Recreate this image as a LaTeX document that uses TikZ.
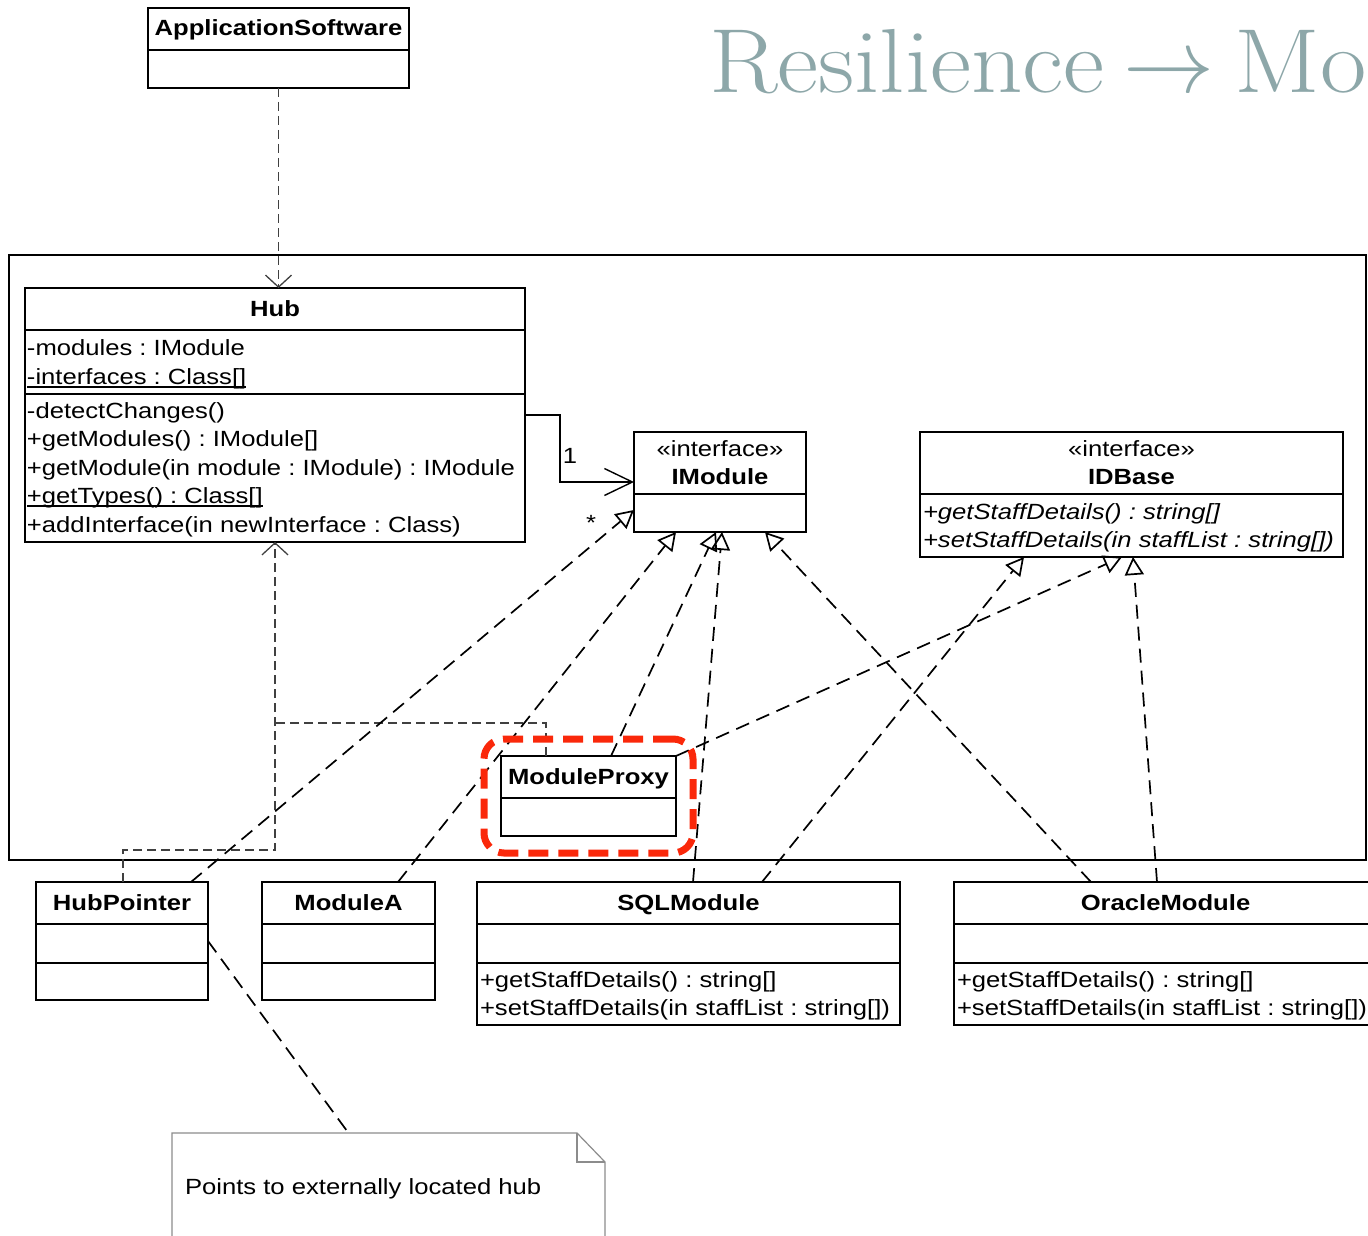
\RequirePackage{fix-cm}
\documentclass[tikz,border=0pt]{standalone}
\usepackage{fontspec}
\usepackage{graphicx}
\setsansfont{Liberation Sans}[FakeStretch=1.165]
\usetikzlibrary{arrows.meta,fit,calc}
\definecolor{titlegrey}{RGB}{141,167,169}
\definecolor{markred}{RGB}{250,40,10}
\definecolor{notegrey}{RGB}{140,140,140}
\newcommand\umlsize{\fontsize{22}{28}\selectfont\frenchspacing}
\begin{document}
\begin{tikzpicture}[x=1pt,y=-1pt,
  every node/.style={font=\sffamily\umlsize, inner sep=0pt, outer sep=0pt},
  box/.style={draw=black, line width=1.6pt, fill=white},
  frame/.style={draw=black, line width=1.6pt},
  div/.style={draw=black, line width=1.6pt},
  ttl/.style={font=\sffamily\bfseries\umlsize, anchor=base},
  ster/.style={font=\sffamily\umlsize, anchor=base},
  txt/.style={font=\sffamily\umlsize, anchor=base west},
  itxt/.style={font=\sffamily\itshape\umlsize, anchor=base west},
  uline/.style={draw=black, line width=1.3pt},
  real/.style={draw=black, line width=1.7pt, dash pattern=on 14pt off 8pt,
    -{Triangle[open, length=18pt, width=19pt, line width=1.7pt]}},
  dep/.style={draw=black!75, line width=1.3pt, dash pattern=on 9pt off 5pt},
  deptip/.style={-{Straight Barb[length=12pt, width=26pt, line width=1.3pt]}},
  assoc/.style={draw=black, line width=1.4pt,
    -{Straight Barb[length=28pt, width=27pt, line width=1.4pt]}},
  notelink/.style={draw=black, line width=1.7pt, dash pattern=on 14pt off 8pt},
  redmark/.style={draw=markred, line width=7pt, dash pattern=on 20pt off 10pt,
    rounded corners=20pt}
]
\useasboundingbox (0,0) rectangle (1368,1236);
\clip (0,0) rectangle (1368,1236);

% slide heading
\node[anchor=base west, font=\rmfamily\fontsize{91}{100}\selectfont,
  text=titlegrey] (heading) at (709,93)
  {\scalebox{1.108}[1]{Resilience}\hspace{19pt}$\rightarrow$\hspace{20pt}\scalebox{1.108}[1]{Mod}};

% package frame
\node[frame, fit={(9,255) (1366,860)}] (pkg) {};

% ApplicationSoftware
\node[box, fit={(148,8) (409,88)}] (app) {};
\draw[div] (148,50) -- (409,50);
\node[ttl] (appname) at (278.5,36) {ApplicationSoftware};

% Hub
\node[box, fit={(25,288) (525,542)}] (hub) {};
\draw[div] (25,330) -- (525,330);
\draw[div] (25,394) -- (525,394);
\node[ttl] (hubname) at (275,316) {Hub};
\node[txt] (hubA1) at (27,355) {-modules : IModule};
\node[txt] (hubA2) at (27,384) {-interfaces : Class[]};
\node[txt] (hubM1) at (27,418) {-detectChanges()};
\node[txt] (hubM2) at (27,446) {+getModules() : IModule[]};
\node[txt] (hubM3) at (27,475) {+getModule(in module : IModule) : IModule};
\node[txt] (hubM4) at (27,503) {+getTypes() : Class[]};
\node[txt] (hubM5) at (27,532) {+addInterface(in newInterface : Class)};
\draw[uline] ([yshift=-3pt]hubA2.base west) -- ([yshift=-3pt]hubA2.base east);
\draw[uline] ([yshift=-3pt]hubM4.base west) -- ([yshift=-3pt]hubM4.base east);

% IModule
\node[box, fit={(634,432) (806,532)}] (imod) {};
\draw[div] (634,494) -- (806,494);
\node[ster] (imodst) at (720,456) {«interface»};
\node[ttl] (imodname) at (720,484) {IModule};

% IDBase
\node[box, fit={(920,432) (1343,557)}] (idb) {};
\draw[div] (920,494) -- (1343,494);
\node[ster] (idbst) at (1131.5,456) {«interface»};
\node[ttl] (idbname) at (1131.5,484) {IDBase};
\node[itxt] (idbM1) at (923,519) {+getStaffDetails() : string[]};
\node[itxt] (idbM2) at (923,547) {+setStaffDetails(in staffList : string[])};

% ModuleProxy
\node[box, fit={(501,756) (676,836)}] (mp) {};
\draw[div] (501,798) -- (676,798);
\node[ttl] (mpname) at (588.5,784) {ModuleProxy};

% HubPointer
\node[box, fit={(36,882) (208,1000)}] (hp) {};
\draw[div] (36,924) -- (208,924);
\draw[div] (36,963) -- (208,963);
\node[ttl] (hpname) at (122,910) {HubPointer};

% ModuleA
\node[box, fit={(262,882) (435,1000)}] (ma) {};
\draw[div] (262,924) -- (435,924);
\draw[div] (262,963) -- (435,963);
\node[ttl] (maname) at (348.5,910) {ModuleA};

% SQLModule
\node[box, fit={(477,882) (900,1025)}] (sql) {};
\draw[div] (477,924) -- (900,924);
\draw[div] (477,963) -- (900,963);
\node[ttl] (sqlname) at (688.5,910) {SQLModule};
\node[txt] (sqlM1) at (480,987) {+getStaffDetails() : string[]};
\node[txt] (sqlM2) at (480,1015) {+setStaffDetails(in staffList : string[])};

% OracleModule
\node[box, fit={(954,882) (1377,1025)}] (ora) {};
\draw[div] (954,924) -- (1377,924);
\draw[div] (954,963) -- (1377,963);
\node[ttl] (oraname) at (1165.5,910) {OracleModule};
\node[txt] (oraM1) at (957,987) {+getStaffDetails() : string[]};
\node[txt] (oraM2) at (957,1015) {+setStaffDetails(in staffList : string[])};

% note
\node[fit={(172,1133) (605,1250)}] (note) {};
\draw[notegrey, line width=1.2pt] (172,1250) -- (172,1133) -- (577,1133)
  -- (605,1162) -- (605,1250);
\draw[notegrey, line width=1.2pt] (577,1133) -- (577,1162) -- (605,1162);
\node[txt] (notetext) at (185,1194) {Points to externally located hub};

% dependencies on Hub
\draw[dep, deptip] (app.south) -- (app.south |- hub.north);
\draw[dep] ([xshift=45pt]mp.north west) |- ($(hub.south)+(0,181)$);
\draw[dep, deptip] ([xshift=87pt]hp.north west) -- ++(0,-32) -| (hub.south);

% association Hub -> IModule
\draw[assoc] (hub.east) -- ++(35,0) |- (imod.west);
\node[anchor=base] (mult1) at (570,463) {1};
\node[anchor=base] (multn) at (591,530) {*};

% realizations of IModule
\draw[real] ([xshift=155pt]hp.north west) -- ([yshift=-28pt]imod.west);
\draw[real] ([xshift=136pt]ma.north west) -- ([xshift=42pt]imod.south west);
\draw[real] ([xshift=110pt]mp.north west) -- ([xshift=82pt]imod.south west);
\draw[real] ([xshift=216pt]sql.north west) -- ([xshift=88pt]imod.south west);
\draw[real] ([xshift=137pt]ora.north west) -- ([xshift=131pt]imod.south west);

% realizations of IDBase
\draw[real] (mp.north east) -- ([xshift=202pt]idb.south west);
\draw[real] ([xshift=285pt]sql.north west) -- ([xshift=104pt]idb.south west);
\draw[real] ([xshift=203pt]ora.north west) -- ([xshift=213pt]idb.south west);

% note link
\draw[notelink] (hp.east) -- ([xshift=-40pt]note.north);

% highlight round ModuleProxy
\node[redmark, fit=(mp), inner sep=17pt] (mpmark) {};
\end{tikzpicture}
\end{document}
